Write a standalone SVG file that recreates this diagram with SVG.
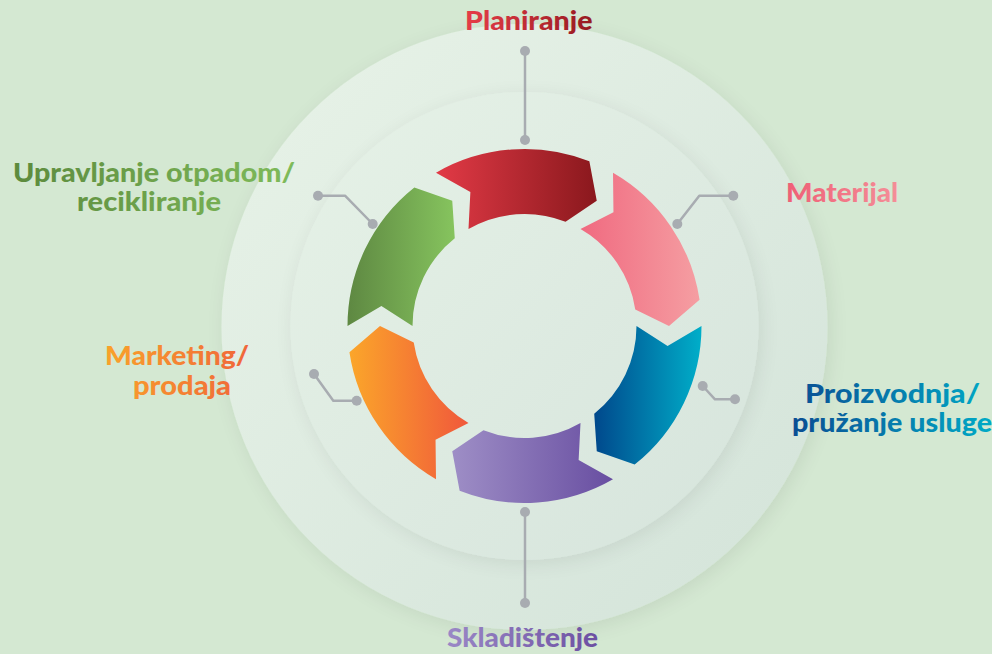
<svg xmlns="http://www.w3.org/2000/svg" width="992" height="654" viewBox="0 0 992 654">
<style>
  .lbl { font-family: Lato, "Open Sans", "Liberation Sans", sans-serif; font-weight: 900; font-size: 26px; }
  .wire { fill: none; stroke: #a8acb1; stroke-width: 2.5; stroke-linejoin: round; }
  .dot { fill: #a8acb1; }
</style>
<defs>
  <linearGradient id="gBig" x1="0" y1="0" x2="1" y2="1">
    <stop offset="0" stop-color="#e8f3e8"/>
    <stop offset="1" stop-color="#d3e3d9"/>
  </linearGradient>
  <linearGradient id="gMid" x1="0" y1="0" x2="1" y2="1">
    <stop offset="0" stop-color="#e6f2e7"/>
    <stop offset="1" stop-color="#d6e4dc"/>
  </linearGradient>
  <filter id="soft" x="-20%" y="-20%" width="140%" height="140%">
    <feGaussianBlur in="SourceAlpha" stdDeviation="10"/>
    <feOffset dx="3" dy="4" result="b"/>
    <feComponentTransfer><feFuncA type="linear" slope="0.08"/></feComponentTransfer>
    <feMerge><feMergeNode/><feMergeNode in="SourceGraphic"/></feMerge>
  </filter>
  <linearGradient id="gRed" x1="0" y1="0" x2="1" y2="0"><stop offset="0" stop-color="#e23a46"/><stop offset="1" stop-color="#8a181d"/></linearGradient>
  <linearGradient id="gPink" x1="0" y1="0" x2="1" y2="0"><stop offset="0" stop-color="#f06a80"/><stop offset="1" stop-color="#f59ea2"/></linearGradient>
  <linearGradient id="gBlue" x1="0" y1="0" x2="1" y2="0"><stop offset="0" stop-color="#00488c"/><stop offset="1" stop-color="#00aec9"/></linearGradient>
  <linearGradient id="gPurple" x1="0" y1="0" x2="1" y2="0"><stop offset="0" stop-color="#9e8ec6"/><stop offset="1" stop-color="#684ea1"/></linearGradient>
  <linearGradient id="gOrange" x1="0" y1="0" x2="1" y2="0"><stop offset="0" stop-color="#fba62a"/><stop offset="1" stop-color="#f0583b"/></linearGradient>
  <linearGradient id="gGreen" x1="0" y1="0" x2="1" y2="0"><stop offset="0" stop-color="#5e8842"/><stop offset="1" stop-color="#86c45e"/></linearGradient>
  <linearGradient id="tRed" x1="0" y1="0" x2="1" y2="0"><stop offset="0" stop-color="#e73c48"/><stop offset="1" stop-color="#961a20"/></linearGradient>
  <linearGradient id="tPink" x1="0" y1="0" x2="1" y2="0"><stop offset="0" stop-color="#ef5f76"/><stop offset="1" stop-color="#f48e98"/></linearGradient>
  <linearGradient id="tBlue" gradientUnits="userSpaceOnUse" x1="792" y1="0" x2="992" y2="0"><stop offset="0" stop-color="#0a4d93"/><stop offset="1" stop-color="#00aac6"/></linearGradient>
  <linearGradient id="tPurple" x1="0" y1="0" x2="1" y2="0"><stop offset="0" stop-color="#9a88c6"/><stop offset="1" stop-color="#6c4fa2"/></linearGradient>
  <linearGradient id="tOrange" gradientUnits="userSpaceOnUse" x1="105" y1="0" x2="250" y2="0"><stop offset="0" stop-color="#f9a22a"/><stop offset="1" stop-color="#f0653a"/></linearGradient>
  <linearGradient id="tGreen" gradientUnits="userSpaceOnUse" x1="13" y1="0" x2="295" y2="0"><stop offset="0" stop-color="#5c8a3d"/><stop offset="1" stop-color="#7fbb5a"/></linearGradient>
</defs>

<rect width="992" height="654" fill="#d4e8d2"/>

<g id="background-circles">
  <circle cx="524.5" cy="327" r="303" fill="url(#gBig)" filter="url(#soft)"/>
  <circle cx="524.5" cy="326" r="234" fill="url(#gMid)" filter="url(#soft)"/>
</g>

<g id="connectors">
  <path class="wire" d="M525 51 V140"/>
  <circle class="dot" cx="525" cy="51" r="5"/><circle class="dot" cx="525" cy="140" r="5"/>
  <path class="wire" d="M318 195.7 H345 L372.7 224"/>
  <circle class="dot" cx="318" cy="195.7" r="5"/><circle class="dot" cx="372.7" cy="224" r="5"/>
  <path class="wire" d="M733.3 195.7 H699.3 L677.3 224"/>
  <circle class="dot" cx="733.3" cy="195.7" r="5"/><circle class="dot" cx="677.3" cy="224" r="5"/>
  <path class="wire" d="M314 374 L333.3 400.7 H356.7"/>
  <circle class="dot" cx="314" cy="374" r="5"/><circle class="dot" cx="356.7" cy="400.7" r="5"/>
  <path class="wire" d="M702.7 386 L715 399.3 H735"/>
  <circle class="dot" cx="702.7" cy="386" r="5"/><circle class="dot" cx="735" cy="399.3" r="5"/>
  <path class="wire" d="M525 512 V603"/>
  <circle class="dot" cx="525" cy="512" r="5"/><circle class="dot" cx="525" cy="603" r="5"/>
</g>

<g id="seg-planiranje">
  <path fill="url(#gRed)" d="M436.00 172.71 A177 177 0 0 1 589.37 161.31 L596.75 200.86 L565.55 221.79 A112 112 0 0 0 468.50 229.00 L470.37 192.02 Z"/>
</g>
<g id="seg-materijal">
  <path fill="url(#gPink)" d="M613.00 172.71 A177 177 0 0 1 699.56 299.84 L669.00 326.00 L635.27 309.45 A112 112 0 0 0 580.50 229.00 L613.46 212.13 Z"/>
</g>
<g id="seg-proizvodnja">
  <path fill="url(#gBlue)" d="M701.50 326.00 A177 177 0 0 1 634.68 464.52 L596.75 451.14 L594.22 413.65 A112 112 0 0 0 636.50 326.00 L667.59 346.11 Z"/>
</g>
<g id="seg-skladistenje">
  <path fill="url(#gPurple)" d="M613.00 479.29 A177 177 0 0 1 459.63 490.68 L452.25 451.14 L483.45 430.21 A112 112 0 0 0 580.50 423.00 L578.63 459.98 Z"/>
</g>
<g id="seg-marketing">
  <path fill="url(#gOrange)" d="M436.00 479.29 A177 177 0 0 1 349.44 352.16 L380.00 326.00 L413.73 342.55 A112 112 0 0 0 468.50 423.00 L435.54 439.87 Z"/>
</g>
<g id="seg-upravljanje">
  <path fill="url(#gGreen)" d="M347.50 326.00 A177 177 0 0 1 414.32 187.48 L452.25 200.86 L454.78 238.35 A112 112 0 0 0 412.50 326.00 L381.41 305.89 Z"/>
</g>

<g id="labels">
  <text class="lbl" x="465" y="29.5" textLength="127.5" lengthAdjust="spacingAndGlyphs" fill="url(#tRed)">Planiranje</text>
  <text class="lbl" x="13" y="181.5" textLength="282" lengthAdjust="spacingAndGlyphs" fill="url(#tGreen)">Upravljanje otpadom/</text>
  <text class="lbl" x="77" y="210.5" textLength="144" lengthAdjust="spacingAndGlyphs" fill="url(#tGreen)">recikliranje</text>
  <text class="lbl" x="786" y="202" textLength="112" lengthAdjust="spacingAndGlyphs" fill="url(#tPink)">Materijal</text>
  <text class="lbl" x="105" y="365" textLength="144" lengthAdjust="spacingAndGlyphs" fill="url(#tOrange)">Marketing/</text>
  <text class="lbl" x="133" y="394.5" textLength="98" lengthAdjust="spacingAndGlyphs" fill="url(#tOrange)">prodaja</text>
  <text class="lbl" x="805" y="403" textLength="175" lengthAdjust="spacingAndGlyphs" fill="url(#tBlue)">Proizvodnja/</text>
  <text class="lbl" x="792" y="432" textLength="200" lengthAdjust="spacingAndGlyphs" fill="url(#tBlue)">pružanje usluge</text>
  <text class="lbl" x="447" y="646.5" textLength="151" lengthAdjust="spacingAndGlyphs" fill="url(#tPurple)">Skladištenje</text>
</g>
</svg>
